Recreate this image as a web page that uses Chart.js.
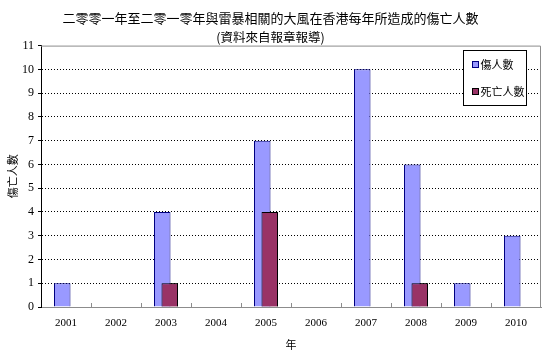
<!DOCTYPE html>
<html>
<head>
<meta charset="utf-8">
<script src="https://cdn.jsdelivr.net/npm/chart.js@4/dist/chart.umd.min.js"></script>
<style>
html,body{margin:0;padding:0;background:#fff;}
#wrap{width:550px;height:351px;position:relative;}
</style>
</head>
<body>
<div id="wrap"><canvas id="c" width="550" height="351"></canvas></div>
<script>
const years = ['2001','2002','2003','2004','2005','2006','2007','2008','2009','2010'];
const injured = [1,0,4,0,7,0,10,6,1,3];
const deaths = [0,0,1,0,4,0,0,1,0,0];
const seriesNames = ['傷人數','死亡人數'];
const titleText = '二零零一年至二零一零年與雷暴相關的大風在香港每年所造成的傷亡人數';
const subtitleText = '(資料來自報章報導)';
const yTitle = '傷亡人數';
const xTitle = '年';

const CJK = '"Noto Sans CJK TC","Noto Sans CJK SC",sans-serif';
const NUM = '"Liberation Serif","DejaVu Serif",serif';

const framePlugin = {
  id: 'frame',
  afterDatasetsDraw(chart) {
    const {ctx, chartArea: a, scales: {x}} = chart;
    // draw the second series again so it sits in front of the first (Excel overlap)
    const meta = chart.getDatasetMeta(1);
    ctx.save();
    meta.controller.draw();
    ctx.restore();
    ctx.save();
    ctx.strokeStyle = '#8c8c8c';
    ctx.lineWidth = 1;
    ctx.beginPath();
    ctx.moveTo(a.left, a.top + 0.5);
    ctx.lineTo(a.right - 0.5, a.top + 0.5);
    ctx.lineTo(a.right - 0.5, a.bottom);
    ctx.stroke();
    ctx.beginPath();
    for (let i = 0; i < years.length - 1; i++) {
      const px = Math.round((x.getPixelForTick(i) + x.getPixelForTick(i + 1)) / 2) + 0.5;
      ctx.moveTo(px, a.bottom);
      ctx.lineTo(px, a.bottom - 4);
    }
    ctx.stroke();
    ctx.restore();
  }
};

const legendPlugin = {
  id: 'boxLegend',
  afterDraw(chart) {
    const {ctx} = chart;
    const bx = 463.5, by = 50.5, bw = 63, bh = 55;
    ctx.save();
    ctx.fillStyle = '#fff';
    ctx.fillRect(bx, by, bw, bh);
    ctx.strokeStyle = '#000';
    ctx.lineWidth = 1;
    ctx.strokeRect(bx, by, bw, bh);
    ctx.font = '11px ' + CJK;
    ctx.textBaseline = 'middle';
    chart.data.datasets.forEach((ds, i) => {
      const cy = by + 14 + i * 27;
      ctx.fillStyle = ds.backgroundColor;
      ctx.fillRect(bx + 9, cy - 3, 6, 6);
      ctx.strokeStyle = ds.borderColor;
      ctx.strokeRect(bx + 9, cy - 3, 6, 6);
      ctx.fillStyle = '#000';
      ctx.fillText(ds.label, bx + 17, cy);
    });
    ctx.restore();
  }
};

new Chart(document.getElementById('c'), {
  type: 'bar',
  data: {
    labels: years,
    datasets: [
      {label: seriesNames[0], data: injured, backgroundColor: '#9999FF', borderColor: '#000080', borderWidth: 1, borderSkipped: 'bottom', categoryPercentage: 0.3, barPercentage: 2.2},
      {label: seriesNames[1], data: deaths, backgroundColor: '#993366', borderColor: '#000000', borderWidth: 1, borderSkipped: 'bottom', categoryPercentage: 0.3, barPercentage: 2.2}
    ]
  },
  options: {
    responsive: false,
    animation: false,
    layout: {padding: {left: 0, right: 9, top: 0, bottom: 0}},
    plugins: {
      legend: {display: false},
      tooltip: {enabled: false},
      title: {display: true, text: titleText, color: '#000', font: {family: CJK, size: 13, weight: 'normal'}, padding: {top: 10, bottom: 4}},
      subtitle: {display: true, text: subtitleText, color: '#000', font: {family: CJK, size: 12.5, weight: 'normal'}, padding: {top: 0, bottom: 1}}
    },
    scales: {
      x: {
        grid: {display: true, drawOnChartArea: false, drawTicks: false, offset: true},
        border: {display: true, color: '#8c8c8c'},
        ticks: {color: '#000', font: {family: NUM, size: 11}, padding: 10, maxRotation: 0, autoSkip: false},
        title: {display: true, text: xTitle, color: '#000', font: {family: CJK, size: 11}, padding: {top: 2, bottom: 0}},
        afterFit(s) { s.height = 44; }
      },
      y: {
        min: 0, max: 11,
        ticks: {stepSize: 1, color: '#000', font: {family: NUM, size: 12}, padding: 4},
        grid: {
          color: (c) => (c.tick && (c.tick.value === 0 || c.tick.value === 11)) ? 'rgba(0,0,0,0)' : '#000',
          tickColor: '#000', tickLength: 3, lineWidth: 1
        },
        border: {display: true, color: '#000', dash: [1, 2]},
        title: {display: true, text: yTitle, color: '#000', font: {family: CJK, size: 11}, padding: {top: 6, bottom: 0}},
        afterFit(s) { s.width = 41; }
      }
    }
  },
  plugins: [framePlugin, legendPlugin]
});
</script>
</body>
</html>
